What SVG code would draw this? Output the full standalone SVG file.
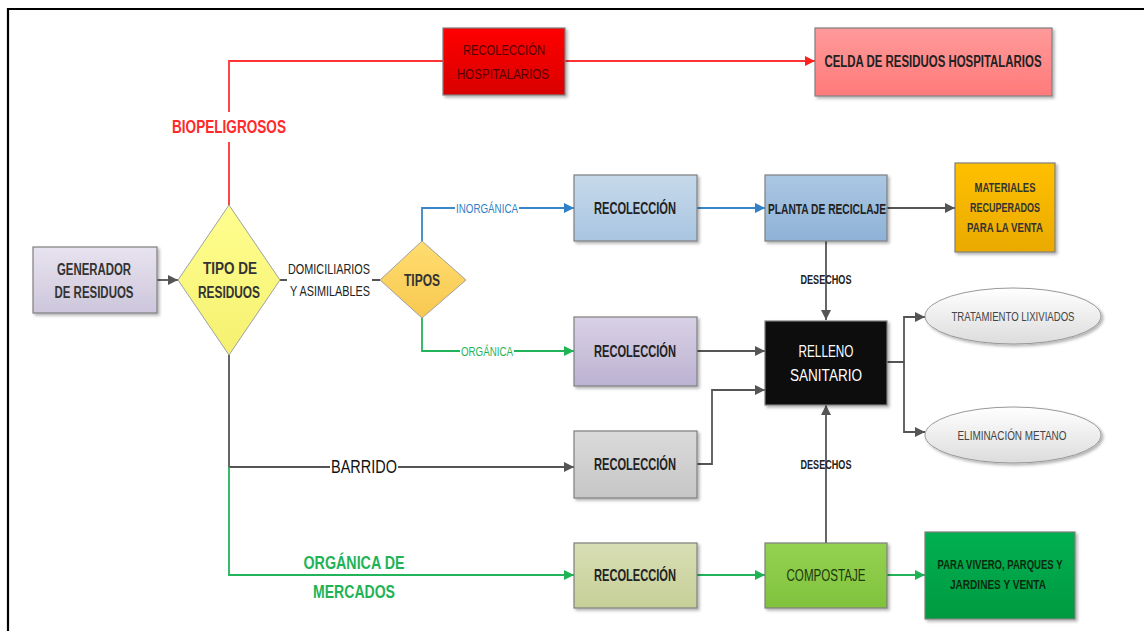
<svg xmlns="http://www.w3.org/2000/svg" width="1144" height="631" viewBox="0 0 1144 631">
  <defs>
    <style>
      .t { font-family: "Liberation Sans", Arial, sans-serif; text-anchor: middle; dominant-baseline: central; }
      .b { font-weight: bold; }
      .box { stroke: #7f7f7f; stroke-width: 1.2; filter: url(#sh); }
      .ln { fill: none; stroke-width: 1.8; }
      .grey { stroke: #555555; }
      .red { stroke: #ff3333; }
      .blue { stroke: #3a86c8; }
      .green { stroke: #22b45a; }
    </style>
    <filter id="sh" x="-10%" y="-10%" width="125%" height="130%">
      <feDropShadow dx="2" dy="2" stdDeviation="1.5" flood-color="#000" flood-opacity="0.3"/>
    </filter>
    <marker id="aGrey" viewBox="0 0 10 10" refX="10" refY="5" markerWidth="10" markerHeight="10" markerUnits="userSpaceOnUse" orient="auto"><path d="M0,0 L10,5 L0,10 Z" fill="#555555"/></marker>
    <marker id="aRed" viewBox="0 0 10 10" refX="10" refY="5" markerWidth="10" markerHeight="10" markerUnits="userSpaceOnUse" orient="auto"><path d="M0,0 L10,5 L0,10 Z" fill="#ff2020"/></marker>
    <marker id="aBlue" viewBox="0 0 10 10" refX="10" refY="5" markerWidth="10" markerHeight="10" markerUnits="userSpaceOnUse" orient="auto"><path d="M0,0 L10,5 L0,10 Z" fill="#2f80c8"/></marker>
    <marker id="aGreen" viewBox="0 0 10 10" refX="10" refY="5" markerWidth="10" markerHeight="10" markerUnits="userSpaceOnUse" orient="auto"><path d="M0,0 L10,5 L0,10 Z" fill="#1fb356"/></marker>
    <linearGradient id="gLav" x1="0" y1="0" x2="0" y2="1"><stop offset="0" stop-color="#e8e3ef"/><stop offset="1" stop-color="#cdc6dc"/></linearGradient>
    <linearGradient id="gRed" x1="0" y1="0" x2="0" y2="1"><stop offset="0" stop-color="#ff0000"/><stop offset="1" stop-color="#d90000"/></linearGradient>
    <linearGradient id="gPink" x1="0" y1="0" x2="0" y2="1"><stop offset="0" stop-color="#ff9a9a"/><stop offset="1" stop-color="#ff7a7a"/></linearGradient>
    <linearGradient id="gBlue1" x1="0" y1="0" x2="0" y2="1"><stop offset="0" stop-color="#c6d9ea"/><stop offset="1" stop-color="#a9c5e1"/></linearGradient>
    <linearGradient id="gBlue2" x1="0" y1="0" x2="0" y2="1"><stop offset="0" stop-color="#abc7e3"/><stop offset="1" stop-color="#8eb2d6"/></linearGradient>
    <linearGradient id="gOrange" x1="0" y1="0" x2="0" y2="1"><stop offset="0" stop-color="#ffc000"/><stop offset="1" stop-color="#eaaa00"/></linearGradient>
    <linearGradient id="gPurple" x1="0" y1="0" x2="0" y2="1"><stop offset="0" stop-color="#d9d1e5"/><stop offset="1" stop-color="#bcb2d2"/></linearGradient>
    <linearGradient id="gGrey" x1="0" y1="0" x2="0" y2="1"><stop offset="0" stop-color="#dadada"/><stop offset="1" stop-color="#c6c6c6"/></linearGradient>
    <linearGradient id="gOlive" x1="0" y1="0" x2="0" y2="1"><stop offset="0" stop-color="#d8deb4"/><stop offset="1" stop-color="#c6cf98"/></linearGradient>
    <linearGradient id="gLime" x1="0" y1="0" x2="0" y2="1"><stop offset="0" stop-color="#94d252"/><stop offset="1" stop-color="#80c23c"/></linearGradient>
    <linearGradient id="gGreen" x1="0" y1="0" x2="0" y2="1"><stop offset="0" stop-color="#00b050"/><stop offset="1" stop-color="#009a40"/></linearGradient>
    <linearGradient id="gYellow" x1="0" y1="0" x2="0" y2="1"><stop offset="0" stop-color="#ffff90"/><stop offset="1" stop-color="#f5f070"/></linearGradient>
    <linearGradient id="gGold" x1="0" y1="0" x2="0" y2="1"><stop offset="0" stop-color="#ffdd70"/><stop offset="1" stop-color="#f8c850"/></linearGradient>
    <linearGradient id="gEll" x1="0" y1="0" x2="0" y2="1"><stop offset="0" stop-color="#ffffff"/><stop offset="1" stop-color="#dcdcdc"/></linearGradient>
  </defs>

  <rect width="1144" height="631" fill="#ffffff"/>
  <!-- page frame -->
  <path d="M8,631 L8,9 L1144,9" fill="none" stroke="#000" stroke-width="2.2"/>

  <!-- connectors -->
  <g id="connectors">
    <!-- biopeligrosos branch -->
    <path class="ln red" d="M229,205 L229,142 M229,112 L229,61 L443,61"/>
    <path class="ln red" d="M565,61 L815,61" marker-end="url(#aRed)"/>
    <!-- generator to decision -->
    <path class="ln grey" d="M157,280 L178,280" marker-end="url(#aGrey)"/>
    <path class="ln grey" d="M280,280 L287,280 M372,280 L380,280"/>
    <!-- tipos branches -->
    <path class="ln blue" d="M422,241 L422,208 L455,208 M519,208 L574,208" marker-end="url(#aBlue)"/>
    <path class="ln blue" d="M697,208 L765,208" marker-end="url(#aBlue)"/>
    <path class="ln grey" d="M887,208 L955,208" marker-end="url(#aGrey)"/>
    <path class="ln green" d="M422,318 L422,351 L460,351 M514,351 L574,351" marker-end="url(#aGreen)"/>
    <path class="ln grey" d="M697,351 L765,351" marker-end="url(#aGrey)"/>
    <!-- desechos from recycling plant -->
    <path class="ln grey" d="M826,241 L826,320" marker-end="url(#aGrey)"/>
    <!-- barrido -->
    <path class="ln grey" d="M229,355 L229,467 L330,467 M398,467 L574,467" marker-end="url(#aGrey)"/>
    <path class="ln grey" d="M697,464 L712,464 L712,390 L765,390" marker-end="url(#aGrey)"/>
    <!-- organica de mercados -->
    <path class="ln green" d="M229,467 L229,575 L574,575" marker-end="url(#aGreen)"/>
    <path class="ln green" d="M697,575 L765,575" marker-end="url(#aGreen)"/>
    <path class="ln green" d="M887,575 L925,575" marker-end="url(#aGreen)"/>
    <path class="ln grey" d="M826,543 L826,405" marker-end="url(#aGrey)"/>
    <!-- relleno outputs -->
    <path class="ln grey" d="M887,362 L904,362 L904,317 L925,317" marker-end="url(#aGrey)"/>
    <path class="ln grey" d="M904,362 L904,432 L925,432" marker-end="url(#aGrey)"/>

    <!-- connector labels -->
    <text class="t b" x="229" y="127" font-size="18" fill="#ff2a2a" textLength="114" lengthAdjust="spacingAndGlyphs">BIOPELIGROSOS</text>
    <text class="t" x="329" y="268" font-size="15" fill="#222" textLength="82" lengthAdjust="spacingAndGlyphs">DOMICILIARIOS</text>
    <text class="t" x="330" y="290" font-size="15" fill="#222" textLength="80" lengthAdjust="spacingAndGlyphs">Y ASIMILABLES</text>
    <text class="t" x="487" y="208" font-size="13" fill="#2f80c8" textLength="62" lengthAdjust="spacingAndGlyphs">INORGÁNICA</text>
    <text class="t" x="487" y="351" font-size="13" fill="#1fb356" textLength="52" lengthAdjust="spacingAndGlyphs">ORGÁNICA</text>
    <text class="t b" x="826" y="279" font-size="13" fill="#222" textLength="51" lengthAdjust="spacingAndGlyphs">DESECHOS</text>
    <text class="t b" x="826" y="464" font-size="13" fill="#222" textLength="51" lengthAdjust="spacingAndGlyphs">DESECHOS</text>
    <text class="t" x="364" y="467" font-size="18" fill="#111" textLength="66" lengthAdjust="spacingAndGlyphs">BARRIDO</text>
    <text class="t b" x="354" y="563" font-size="18" fill="#1fb356" textLength="101" lengthAdjust="spacingAndGlyphs">ORGÁNICA DE</text>
    <text class="t b" x="354" y="592" font-size="18" fill="#1fb356" textLength="82" lengthAdjust="spacingAndGlyphs">MERCADOS</text>
  </g>

  <g id="generador">
    <rect class="box" x="33" y="247" width="124" height="66" fill="url(#gLav)"/>
    <text class="t b" x="94" y="269" font-size="16" fill="#333" textLength="74" lengthAdjust="spacingAndGlyphs">GENERADOR</text>
    <text class="t b" x="94" y="292" font-size="16" fill="#333" textLength="79" lengthAdjust="spacingAndGlyphs">DE RESIDUOS</text>
  </g>

  <g id="tipo-residuos">
    <path d="M229,205 L280,280 L229,355 L178,280 Z" fill="url(#gYellow)" stroke="#a0a0a0" stroke-width="1"/>
    <text class="t b" x="230" y="268" font-size="16" fill="#333" textLength="54" lengthAdjust="spacingAndGlyphs">TIPO DE</text>
    <text class="t b" x="229" y="292" font-size="16" fill="#333" textLength="62" lengthAdjust="spacingAndGlyphs">RESIDUOS</text>
  </g>

  <g id="tipos">
    <path d="M422,241 L466,280 L422,318 L380,280 Z" fill="url(#gGold)" stroke="#a0a0a0" stroke-width="1"/>
    <text class="t b" x="422" y="280" font-size="16" fill="#333" textLength="36" lengthAdjust="spacingAndGlyphs">TIPOS</text>
  </g>

  <g id="recoleccion-hospitalarios">
    <rect class="box" x="443" y="28" width="122" height="67" fill="url(#gRed)"/>
    <text class="t" x="504" y="49" font-size="15" fill="#550000" textLength="82" lengthAdjust="spacingAndGlyphs">RECOLECCIÓN</text>
    <text class="t" x="503" y="73" font-size="15" fill="#550000" textLength="92" lengthAdjust="spacingAndGlyphs">HOSPITALARIOS</text>
  </g>

  <g id="celda">
    <rect class="box" x="815" y="28" width="237" height="68" fill="url(#gPink)"/>
    <text class="t b" x="933" y="61" font-size="16" fill="#222" textLength="217" lengthAdjust="spacingAndGlyphs">CELDA DE RESIDUOS HOSPITALARIOS</text>
  </g>

  <g id="recoleccion-inorganica">
    <rect class="box" x="574" y="175" width="123" height="66" fill="url(#gBlue1)"/>
    <text class="t b" x="635" y="208" font-size="16.5" fill="#222" textLength="82" lengthAdjust="spacingAndGlyphs">RECOLECCIÓN</text>
  </g>

  <g id="planta-reciclaje">
    <rect class="box" x="765" y="175" width="122" height="66" fill="url(#gBlue2)"/>
    <text class="t b" x="827" y="208" font-size="15" fill="#222" textLength="118" lengthAdjust="spacingAndGlyphs">PLANTA DE RECICLAJE</text>
  </g>

  <g id="materiales">
    <rect class="box" x="955" y="163" width="100" height="89" fill="url(#gOrange)"/>
    <text class="t b" x="1005" y="187" font-size="13.5" fill="#333" textLength="61" lengthAdjust="spacingAndGlyphs">MATERIALES</text>
    <text class="t b" x="1005" y="207" font-size="13.5" fill="#333" textLength="70" lengthAdjust="spacingAndGlyphs">RECUPERADOS</text>
    <text class="t b" x="1005" y="227" font-size="13.5" fill="#333" textLength="76" lengthAdjust="spacingAndGlyphs">PARA LA VENTA</text>
  </g>

  <g id="recoleccion-organica">
    <rect class="box" x="574" y="317" width="123" height="69" fill="url(#gPurple)"/>
    <text class="t b" x="635" y="351" font-size="16.5" fill="#222" textLength="82" lengthAdjust="spacingAndGlyphs">RECOLECCIÓN</text>
  </g>

  <g id="relleno-sanitario">
    <rect class="box" x="765" y="321" width="122" height="84" fill="#0a0a0a"/>
    <text class="t" x="826" y="351" font-size="16" fill="#ffffff" textLength="55" lengthAdjust="spacingAndGlyphs">RELLENO</text>
    <text class="t" x="826" y="375" font-size="16" fill="#ffffff" textLength="72" lengthAdjust="spacingAndGlyphs">SANITARIO</text>
  </g>

  <g id="tratamiento-lixiviados">
    <ellipse cx="1013" cy="316" rx="88" ry="28" fill="url(#gEll)" stroke="#999" stroke-width="1" filter="url(#sh)"/>
    <text class="t" x="1013" y="316" font-size="13.5" fill="#444" textLength="123" lengthAdjust="spacingAndGlyphs">TRATAMIENTO LIXIVIADOS</text>
  </g>

  <g id="eliminacion-metano">
    <ellipse cx="1013" cy="435" rx="88" ry="28" fill="url(#gEll)" stroke="#999" stroke-width="1" filter="url(#sh)"/>
    <text class="t" x="1012" y="435" font-size="13.5" fill="#444" textLength="109" lengthAdjust="spacingAndGlyphs">ELIMINACIÓN METANO</text>
  </g>

  <g id="recoleccion-barrido">
    <rect class="box" x="574" y="431" width="123" height="67" fill="url(#gGrey)"/>
    <text class="t b" x="635" y="464" font-size="16.5" fill="#222" textLength="82" lengthAdjust="spacingAndGlyphs">RECOLECCIÓN</text>
  </g>

  <g id="recoleccion-mercados">
    <rect class="box" x="574" y="543" width="123" height="65" fill="url(#gOlive)"/>
    <text class="t b" x="635" y="575" font-size="16.5" fill="#222" textLength="82" lengthAdjust="spacingAndGlyphs">RECOLECCIÓN</text>
  </g>

  <g id="compostaje">
    <rect class="box" x="765" y="543" width="122" height="65" fill="url(#gLime)"/>
    <text class="t" x="826" y="575" font-size="16" fill="#1c3a0a" textLength="79" lengthAdjust="spacingAndGlyphs">COMPOSTAJE</text>
  </g>

  <g id="vivero">
    <rect class="box" x="925" y="532" width="150" height="87" fill="url(#gGreen)"/>
    <text class="t b" x="1000" y="564" font-size="13.5" fill="#0a2a10" textLength="125" lengthAdjust="spacingAndGlyphs">PARA VIVERO, PARQUES Y</text>
    <text class="t b" x="998" y="584" font-size="13.5" fill="#0a2a10" textLength="96" lengthAdjust="spacingAndGlyphs">JARDINES Y VENTA</text>
  </g>
</svg>
